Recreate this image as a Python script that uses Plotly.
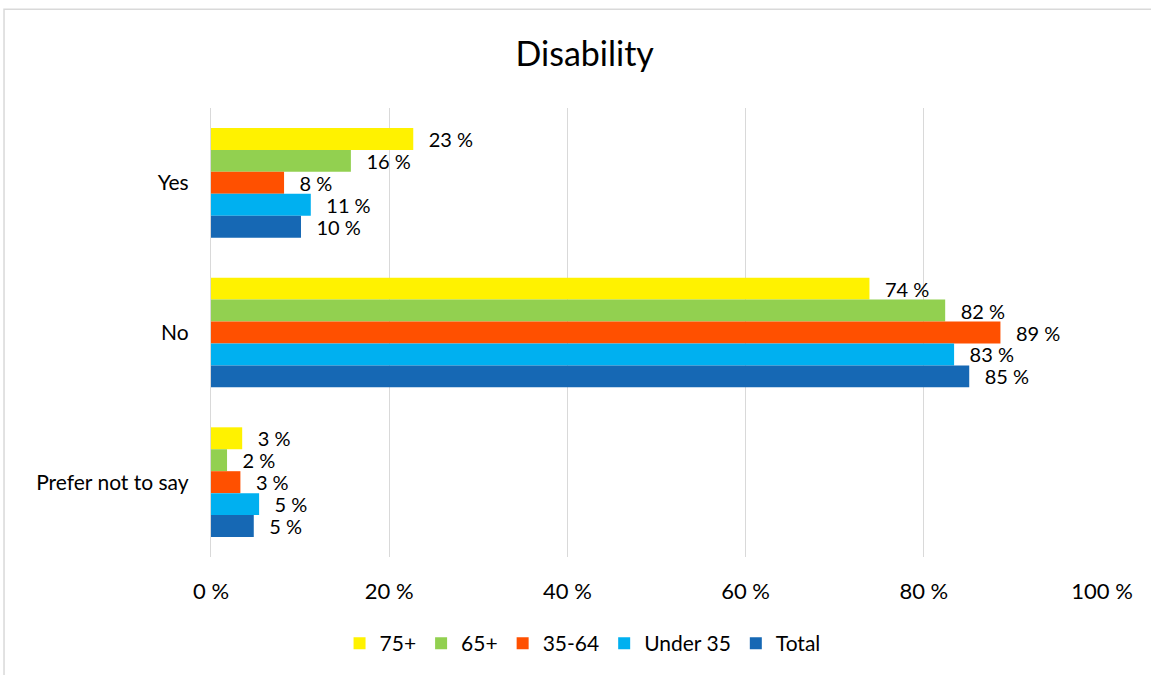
import plotly.graph_objects as go

categories = ["Yes", "No", "Prefer not to say"]
series_names = ["75+", "65+", "35-64", "Under 35", "Total"]
v_75 = [22.7, 73.9, 3.5]
v_65 = [15.7, 82.4, 1.8]
v_35_64 = [8.2, 88.6, 3.3]
v_under35 = [11.2, 83.4, 5.4]
v_total = [10.1, 85.1, 4.8]
labels_75 = ["23 %", "74 %", "3 %"]
labels_65 = ["16 %", "82 %", "2 %"]
labels_35_64 = ["8 %", "89 %", "3 %"]
labels_under35 = ["11 %", "83 %", "5 %"]
labels_total = ["10 %", "85 %", "5 %"]
colors = ["#FFF200", "#92D050", "#FF5000", "#00B0F0", "#1668B4"]

values = [v_75, v_65, v_35_64, v_under35, v_total]
labels = [labels_75, labels_65, labels_35_64, labels_under35, labels_total]

FONT = "Lato, 'Open Sans', sans-serif"
PAD = "\u2002\u2009"

fig = go.Figure()
for name, vals, txt, col in zip(series_names, values, labels, colors):
    fig.add_trace(go.Bar(
        y=categories, x=vals, name=name, orientation="h",
        marker=dict(color=col, line=dict(width=0)),
        text=[PAD + t for t in txt], textposition="outside", cliponaxis=False,
        constraintext="none",
        textfont=dict(size=20, color="#000000", family=FONT),
        hoverinfo="skip",
    ))

fig.update_layout(
    width=1151, height=675,
    barmode="group", bargap=0.267, bargroupgap=0,
    paper_bgcolor="white", plot_bgcolor="white",
    font=dict(family=FONT, color="#000000", size=21),
    title=dict(text="Disability", x=0.508, xanchor="center", y=0.92, yanchor="middle",
               font=dict(size=34, family=FONT, color="#000000")),
    margin=dict(l=211, r=49, t=108, b=117),
    xaxis=dict(range=[0, 100], dtick=20, ticksuffix=" %", showgrid=True,
               gridcolor="#D9D9D9", gridwidth=1.3, zeroline=False, showline=False,
               ticks="", ticklabelstandoff=19, tickfont=dict(size=22), fixedrange=True),
    yaxis=dict(autorange="reversed", showline=True, linecolor="#D9D9D9", linewidth=1.3,
               ticks="", ticklabelstandoff=17, tickfont=dict(size=21), showgrid=False),
    legend=dict(orientation="h", x=0.417, xanchor="center", y=-0.19, yanchor="middle",
                font=dict(size=21), itemwidth=30, traceorder="normal"),
    shapes=[dict(type="rect", xref="paper", yref="paper", x0=-0.2323, x1=1.06,
                 y0=-0.4, y1=1.22, line=dict(color="#D9D9D9", width=1.5), layer="below")],
)

fig.write_html("out.html", config={"displayModeBar": False},
               post_script="document.body.style.margin='0';document.body.style.padding='0';")
